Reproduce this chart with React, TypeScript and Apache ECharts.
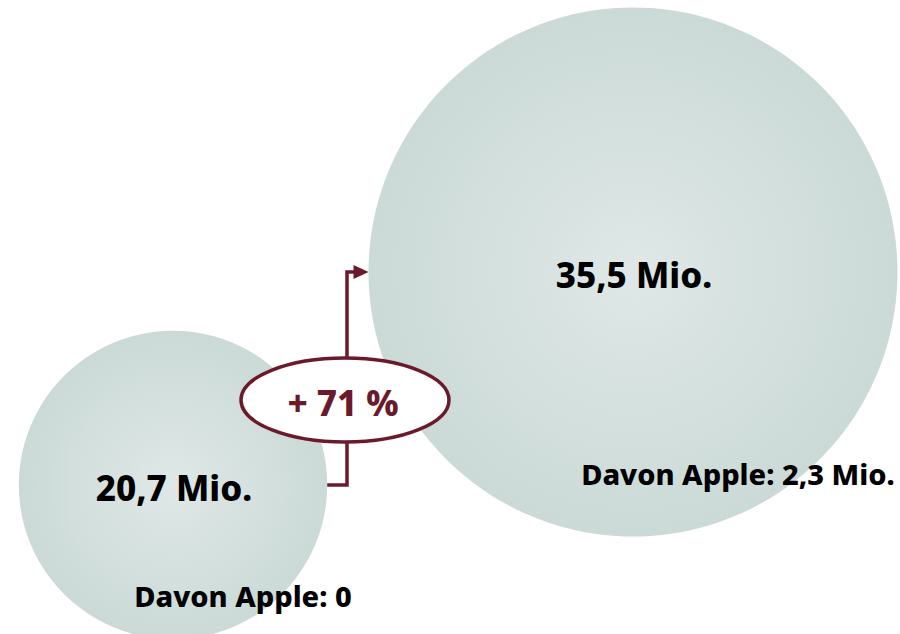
import React, { useEffect, useRef } from "react";
import * as echarts from "echarts";

// Users in millions, before and after
const periods = ["vorher", "nachher"];
const usersMio = [20.7, 35.5];
const davonAppleMio = [0, 2.3];
const growthPct = 71;

const MAROON = "#6b1a2c";
const INK = "#000000";
const FONT = "'Noto Sans', 'Open Sans', sans-serif";
const SIZE_PER_MIO = 14.9; // bubble diameter in px per million

const fmt = (v: number) => v.toLocaleString("de-DE", { maximumFractionDigits: 1 });

export default function App() {
  const ref = useRef<HTMLDivElement>(null);

  useEffect(() => {
    if (!ref.current) return;
    const chart = echarts.init(ref.current, undefined, { renderer: "svg" });

    const bubbleGradient = {
      type: "radial",
      x: 0.5,
      y: 0.5,
      r: 0.5,
      colorStops: [
        { offset: 0, color: "#dfe8e6" },
        { offset: 1, color: "#cbdad7" },
      ],
    };

    const davonOffsets = [
      [70, 110],
      [105, 201],
    ];

    chart.setOption({
      animation: false,
      grid: { left: 173, right: 267, top: 272, bottom: 149 },
      xAxis: { type: "value", min: 0, max: 1, show: false },
      yAxis: { type: "value", min: 0, max: 1, show: false },
      series: [
        {
          type: "scatter",
          clip: false,
          symbol: "circle",
          data: usersMio.map((v, i) => ({ name: periods[i], value: [i, i, v] })),
          symbolSize: (val: number[]) => val[2] * SIZE_PER_MIO,
          itemStyle: { color: bubbleGradient as any, opacity: 1 },
          label: {
            show: true,
            position: "inside",
            offset: [1, 2],
            formatter: (p: any) => `${fmt(p.value[2])} Mio.`,
            fontFamily: FONT,
            fontWeight: 800,
            fontSize: 35,
            color: INK,
          },
        },
        {
          type: "scatter",
          clip: false,
          z: 5,
          symbolSize: 1,
          itemStyle: { color: "rgba(0,0,0,0)", opacity: 1 },
          data: davonAppleMio.map((v, i) => ({
            name: periods[i],
            value: [i, i, v],
            label: { offset: davonOffsets[i] },
          })),
          label: {
            show: true,
            position: "inside",
            formatter: (p: any) =>
              `Davon Apple: ${p.value[2] === 0 ? "0" : fmt(p.value[2]) + " Mio."}`,
            fontFamily: FONT,
            fontWeight: 800,
            fontSize: 29,
            color: INK,
          },
        },
      ],
    });

    // Connector from the small bubble's right edge to the large bubble's left edge
    const p0 = chart.convertToPixel({ seriesIndex: 0 }, [0, 0]) as number[];
    const p1 = chart.convertToPixel({ seriesIndex: 0 }, [1, 1]) as number[];
    const r0 = (usersMio[0] * SIZE_PER_MIO) / 2;
    const r1 = (usersMio[1] * SIZE_PER_MIO) / 2;
    const startX = p0[0] + r0;
    const tipX = p1[0] - r1;
    const stemX = 347;
    const ell = { cx: 345, cy: 400, rx: 104, ry: 42 };
    const lineStyle = { stroke: MAROON, lineWidth: 3.5, fill: "none" };

    chart.setOption({
      graphic: [
        {
          type: "polyline",
          z: 100,
          shape: {
            points: [
              [startX, p0[1]],
              [stemX, p0[1]],
              [stemX, p1[1]],
              [tipX - 14, p1[1]],
            ],
          },
          style: lineStyle,
        },
        {
          type: "polygon",
          z: 100,
          shape: {
            points: [
              [tipX - 15, p1[1] - 7],
              [tipX, p1[1]],
              [tipX - 15, p1[1] + 7],
            ],
          },
          style: { fill: MAROON },
        },
        {
          type: "ellipse",
          z: 101,
          shape: ell,
          style: { fill: "#ffffff", stroke: MAROON, lineWidth: 3.5 },
        },
        {
          type: "text",
          z: 102,
          x: ell.cx - 2,
          y: ell.cy + 2,
          style: {
            text: `+ ${growthPct} %`,
            fill: MAROON,
            font: `800 35px ${FONT}`,
            align: "center",
            verticalAlign: "middle",
          },
        },
      ],
    });

    return () => chart.dispose();
  }, []);

  return (
    <div
      ref={ref}
      style={{ position: "fixed", left: 0, top: 0, width: 900, height: 634, background: "#fff" }}
    />
  );
}
